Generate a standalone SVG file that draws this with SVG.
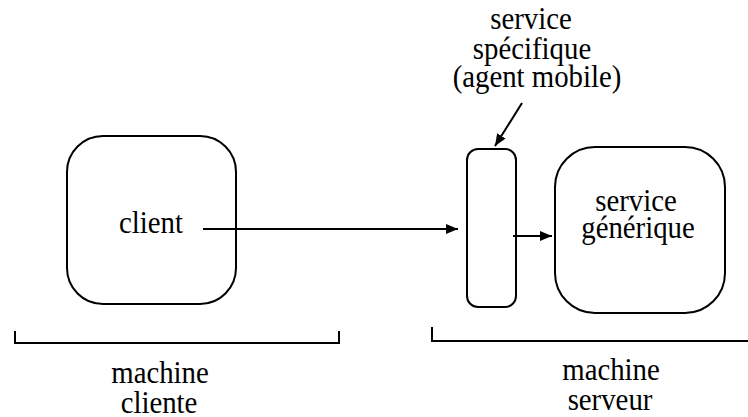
<svg xmlns="http://www.w3.org/2000/svg" width="748" height="417" viewBox="0 0 748 417">
<style>
.box{fill:none;stroke:#000;stroke-width:2}
.ln{fill:none;stroke:#000;stroke-width:2}
.t{font-family:'Liberation Serif','Times New Roman',serif;font-size:32px;fill:#000;text-anchor:middle}
</style>
<defs>
<marker id="ah" markerUnits="userSpaceOnUse" markerWidth="13" markerHeight="11" refX="12" refY="5" orient="auto">
<path d="M0,0 L12,5 L0,10 z" fill="#000"/>
</marker>
</defs>
<rect width="748" height="417" fill="#fff"/>
<g id="client">
<rect class="box" x="67" y="136" width="169" height="168" rx="36" ry="36"/>
<text class="t" transform="translate(151,233) scale(0.9,1)">client</text>
</g>
<g id="service-specifique">
<rect class="box" x="467" y="149" width="49" height="158" rx="11" ry="11"/>
<text class="t" transform="translate(531,29) scale(0.9,1)">service</text>
<text class="t" transform="translate(532,59) scale(0.9,1)">spécifique</text>
<text class="t" transform="translate(537,87) scale(0.9,1)">(agent mobile)</text>
</g>
<g id="service-generique">
<rect class="box" x="555" y="147" width="170" height="166" rx="40" ry="40"/>
<text class="t" transform="translate(636,211) scale(0.9,1)">service</text>
<text class="t" transform="translate(638,238) scale(0.9,1)">générique</text>
</g>
<g id="machine-cliente">
<path class="ln" d="M15,331 V343 H339 V331"/>
<text class="t" transform="translate(160,383) scale(0.9,1)">machine</text>
<text class="t" transform="translate(159,413) scale(0.9,1)">cliente</text>
</g>
<g id="machine-serveur">
<path class="ln" d="M432,327 V341 H748"/>
<text class="t" transform="translate(611,380) scale(0.9,1)">machine</text>
<text class="t" transform="translate(610,410) scale(0.9,1)">serveur</text>
</g>
<g id="connectors">
<line class="ln" x1="203" y1="229" x2="458" y2="229" marker-end="url(#ah)"/>
<line class="ln" x1="513" y1="236" x2="552" y2="236" marker-end="url(#ah)"/>
<line class="ln" x1="522" y1="103" x2="495" y2="146" marker-end="url(#ah)"/>
</g>
</svg>
